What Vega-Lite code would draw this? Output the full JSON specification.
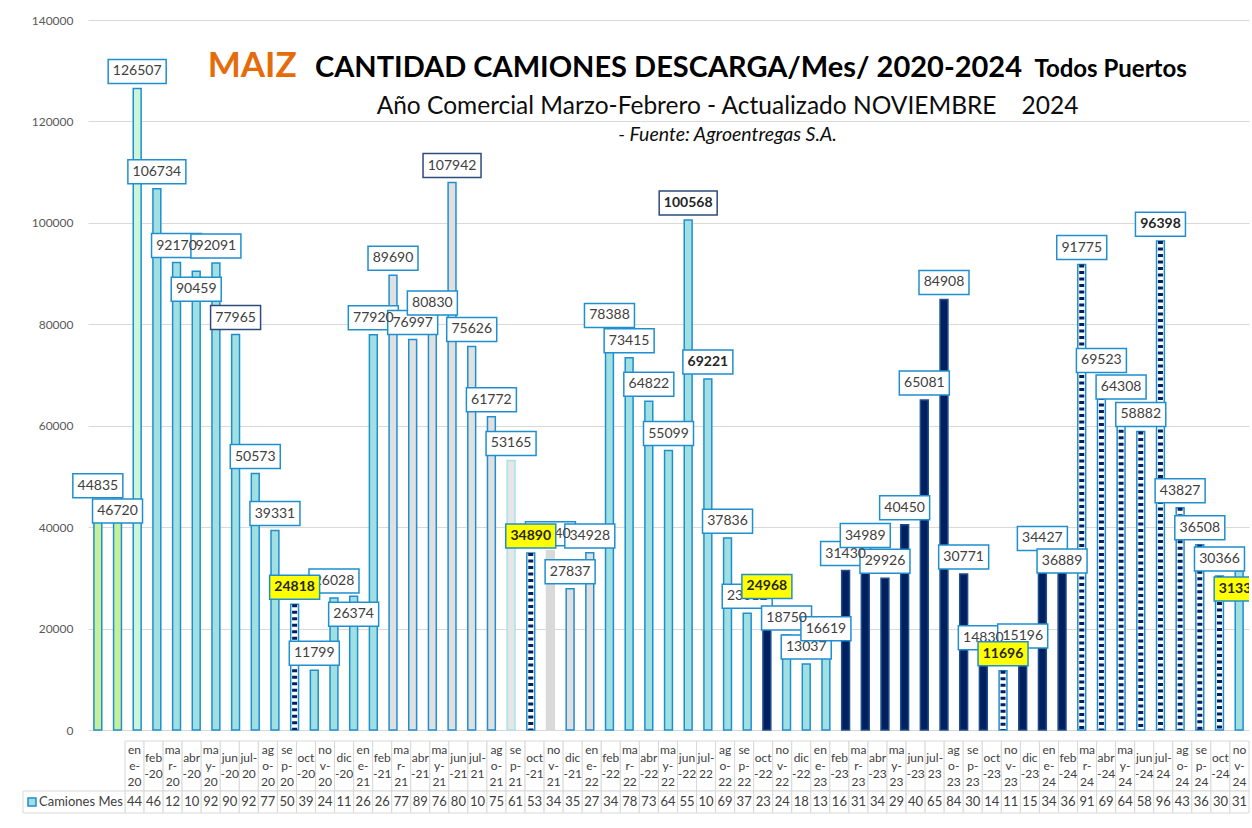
{
  "$schema": "https://vega.github.io/schema/vega-lite/v6.json",
  "background": "white",
  "padding": {"left": 18, "top": 14, "right": 1, "bottom": 4},
  "config": {"font": "Lato", "view": {"stroke": null}},
  "datasets": {
    "camiones": [
      {"mes": "ene-20", "camiones": 44835, "tramo": "A"},
      {"mes": "feb-20", "camiones": 46720, "tramo": "A"},
      {"mes": "mar-20", "camiones": 126507, "tramo": "B"},
      {"mes": "abr-20", "camiones": 106734, "tramo": "C"},
      {"mes": "may-20", "camiones": 92170, "tramo": "C"},
      {"mes": "jun-20", "camiones": 90459, "tramo": "C"},
      {"mes": "jul-20", "camiones": 92091, "tramo": "C"},
      {"mes": "ago-20", "camiones": 77965, "tramo": "C"},
      {"mes": "sep-20", "camiones": 50573, "tramo": "C"},
      {"mes": "oct-20", "camiones": 39331, "tramo": "C"},
      {"mes": "nov-20", "camiones": 24818, "tramo": "G"},
      {"mes": "dic-20", "camiones": 11799, "tramo": "C"},
      {"mes": "ene-21", "camiones": 26028, "tramo": "C"},
      {"mes": "feb-21", "camiones": 26374, "tramo": "C"},
      {"mes": "mar-21", "camiones": 77920, "tramo": "C"},
      {"mes": "abr-21", "camiones": 89690, "tramo": "D"},
      {"mes": "may-21", "camiones": 76997, "tramo": "D"},
      {"mes": "jun-21", "camiones": 80830, "tramo": "D"},
      {"mes": "jul-21", "camiones": 107942, "tramo": "D"},
      {"mes": "ago-21", "camiones": 75626, "tramo": "D"},
      {"mes": "sep-21", "camiones": 61772, "tramo": "D"},
      {"mes": "oct-21", "camiones": 53165, "tramo": "E"},
      {"mes": "nov-21", "camiones": 34890, "tramo": "G"},
      {"mes": "dic-21", "camiones": 35340, "tramo": "F"},
      {"mes": "ene-22", "camiones": 27837, "tramo": "D"},
      {"mes": "feb-22", "camiones": 34928, "tramo": "D"},
      {"mes": "mar-22", "camiones": 78388, "tramo": "C"},
      {"mes": "abr-22", "camiones": 73415, "tramo": "C"},
      {"mes": "may-22", "camiones": 64822, "tramo": "C"},
      {"mes": "jun-22", "camiones": 55099, "tramo": "C"},
      {"mes": "jul-22", "camiones": 100568, "tramo": "C"},
      {"mes": "ago-22", "camiones": 69221, "tramo": "C"},
      {"mes": "sep-22", "camiones": 37836, "tramo": "C"},
      {"mes": "oct-22", "camiones": 23012, "tramo": "C"},
      {"mes": "nov-22", "camiones": 24968, "tramo": "H"},
      {"mes": "dic-22", "camiones": 18750, "tramo": "C"},
      {"mes": "ene-23", "camiones": 13037, "tramo": "C"},
      {"mes": "feb-23", "camiones": 16619, "tramo": "C"},
      {"mes": "mar-23", "camiones": 31430, "tramo": "H"},
      {"mes": "abr-23", "camiones": 34989, "tramo": "H"},
      {"mes": "may-23", "camiones": 29926, "tramo": "H"},
      {"mes": "jun-23", "camiones": 40450, "tramo": "H"},
      {"mes": "jul-23", "camiones": 65081, "tramo": "H"},
      {"mes": "ago-23", "camiones": 84908, "tramo": "H"},
      {"mes": "sep-23", "camiones": 30771, "tramo": "H"},
      {"mes": "oct-23", "camiones": 14830, "tramo": "H"},
      {"mes": "nov-23", "camiones": 11696, "tramo": "G"},
      {"mes": "dic-23", "camiones": 15196, "tramo": "H"},
      {"mes": "ene-24", "camiones": 34427, "tramo": "H"},
      {"mes": "feb-24", "camiones": 36889, "tramo": "H"},
      {"mes": "mar-24", "camiones": 91775, "tramo": "G"},
      {"mes": "abr-24", "camiones": 69523, "tramo": "G"},
      {"mes": "may-24", "camiones": 64308, "tramo": "G"},
      {"mes": "jun-24", "camiones": 58882, "tramo": "G"},
      {"mes": "jul-24", "camiones": 96398, "tramo": "G"},
      {"mes": "ago-24", "camiones": 43827, "tramo": "G"},
      {"mes": "sep-24", "camiones": 36508, "tramo": "G"},
      {"mes": "oct-24", "camiones": 30366, "tramo": "G"},
      {"mes": "nov-24", "camiones": 31330, "tramo": "C"}
    ],
    "titulos": [
      {"titulo": "MAIZ"},
      {"titulo": "CANTIDAD CAMIONES DESCARGA/Mes/ 2020-2024"},
      {"titulo": "Todos Puertos"},
      {"titulo": "Año Comercial Marzo-Febrero - Actualizado NOVIEMBRE\u00a0\u00a0\u00a0 2024"},
      {"titulo": "- Fuente: Agroentregas S.A."}
    ]
  },
  "spacing": 4,
  "vconcat": [
    {
      "width": 1161,
      "height": 710,
      "layer": [
        {
          "data": {"name": "camiones"},
          "encoding": {
            "x": {
              "field": "mes", "type": "nominal", "sort": null, "axis": null,
              "scale": {
                "domain": ["ene-20","feb-20","mar-20","abr-20","may-20","jun-20","jul-20","ago-20","sep-20","oct-20","nov-20","dic-20","ene-21","feb-21","mar-21","abr-21","may-21","jun-21","jul-21","ago-21","sep-21","oct-21","nov-21","dic-21","ene-22","feb-22","mar-22","abr-22","may-22","jun-22","jul-22","ago-22","sep-22","oct-22","nov-22","dic-22","ene-23","feb-23","mar-23","abr-23","may-23","jun-23","jul-23","ago-23","sep-23","oct-23","nov-23","dic-23","ene-24","feb-24","mar-24","abr-24","may-24","jun-24","jul-24","ago-24","sep-24","oct-24","nov-24"],
                "paddingInner": 0.6, "paddingOuter": 0.3
              }
            },
            "y": {
              "field": "camiones", "type": "quantitative",
              "scale": {"domain": [0, 140000], "nice": false},
              "axis": {
                "values": [0, 20000, 40000, 60000, 80000, 100000, 120000, 140000],
                "format": "d", "title": null, "domain": false, "ticks": false,
                "grid": true, "gridColor": "#D9D9D9", "gridWidth": 1,
                "labelFontSize": 12, "labelColor": "#595959", "labelPadding": 15, "minExtent": 70
              }
            }
          },
          "layer": [
            {
              "mark": {"type": "bar", "strokeWidth": 1.5},
              "encoding": {
                "fill": {"field": "tramo", "type": "nominal", "legend": null,
                  "scale": {"domain": ["A","B","C","D","E","F","G","H"], "range": ["#C4F09E","#CCF6D8","#A0E0E3","#E0E0E0","#E6E6E6","#D9D9D9","#FFFFFF","#002060"]}},
                "stroke": {"field": "tramo", "type": "nominal", "legend": null,
                  "scale": {"domain": ["A","B","C","D","E","F","G","H"], "range": ["#1F8FCF","#1F8FCF","#1F8FCF","#1F8FCF","#A6E3E6","#D9D9D9","#1F8FCF","#1F4E8C"]}}
              }
            },
            {
              "transform": [{"filter": "datum.tramo == 'G'"}],
              "mark": {"type": "rule", "stroke": "#002060", "strokeWidth": 5, "strokeDash": [3, 3.5]},
              "encoding": {"y2": {"datum": 0}}
            },
            {
              "transform": [
                {"window": [{"op": "row_number", "as": "n"}, {"op": "lag", "field": "camiones", "as": "l1"}, {"op": "lag", "field": "camiones", "param": 2, "as": "l2"}, {"op": "lead", "field": "camiones", "as": "s1"}]},
                {"calculate": "datum.n % 2", "as": "par"},
                {"calculate": "substring(datum.mes,0,3) == 'nov' || indexof(['jul-22','ago-22','jul-24'], datum.mes) >= 0", "as": "negrita"},
                {"calculate": "(datum.l1 != null && abs(datum.camiones - datum.l1) < 2500 && !(datum.l2 != null && abs(datum.l1 - datum.l2) < 2500) && !(datum.s1 != null && abs((datum.camiones - 3550) - (datum.s1 + 3350)) < 4800)) ? datum.camiones - 3550 : datum.camiones + 3350", "as": "ylab"}
              ],
              "encoding": {
                "y": {"field": "ylab", "type": "quantitative"}
              },
              "layer": [
                {
                  "transform": [{"filter": "datum.par == 1 && !datum.negrita"}],
                  "mark": {"type": "point", "filled": true, "opacity": 1, "strokeWidth": 1.5},
                  "encoding": {
                    "shape": {"condition": {"test": "datum.camiones >= 100000", "value": "M-1,-0.414H1V0.414H-1Z"}, "value": "M-1,-0.48H1V0.48H-1Z"},
                    "size": {"condition": {"test": "datum.camiones >= 100000", "value": 3364}, "value": 2500},
                    "fill": {"value": "#FFFFFF"},
                    "stroke": {"condition": {"test": "indexof(['ago-20','jul-21','jul-22'], datum.mes) >= 0", "value": "#2F4B7C"}, "value": "#1F8FCF"}
                  }
                },
                {
                  "transform": [{"filter": "datum.par == 1 && !datum.negrita"}],
                  "mark": {"type": "text", "fontSize": 14, "color": "#404040", "baseline": "middle", "align": "center"},
                  "encoding": {"text": {"field": "camiones", "type": "quantitative", "format": "d"}}
                },
                {
                  "transform": [{"filter": "datum.par == 0 && !datum.negrita"}],
                  "mark": {"type": "point", "filled": true, "opacity": 1, "strokeWidth": 1.5},
                  "encoding": {
                    "shape": {"condition": {"test": "datum.camiones >= 100000", "value": "M-1,-0.414H1V0.414H-1Z"}, "value": "M-1,-0.48H1V0.48H-1Z"},
                    "size": {"condition": {"test": "datum.camiones >= 100000", "value": 3364}, "value": 2500},
                    "fill": {"value": "#FFFFFF"},
                    "stroke": {"condition": {"test": "indexof(['ago-20','jul-21','jul-22'], datum.mes) >= 0", "value": "#2F4B7C"}, "value": "#1F8FCF"}
                  }
                },
                {
                  "transform": [{"filter": "datum.par == 0 && !datum.negrita"}],
                  "mark": {"type": "text", "fontSize": 14, "color": "#404040", "baseline": "middle", "align": "center"},
                  "encoding": {"text": {"field": "camiones", "type": "quantitative", "format": "d"}}
                },
                {
                  "transform": [{"filter": "datum.negrita && datum.mes != 'nov-24'"}],
                  "mark": {"type": "point", "filled": true, "opacity": 1, "strokeWidth": 1.5},
                  "encoding": {
                    "shape": {"condition": {"test": "datum.camiones >= 100000", "value": "M-1,-0.414H1V0.414H-1Z"}, "value": "M-1,-0.48H1V0.48H-1Z"},
                    "size": {"condition": {"test": "datum.camiones >= 100000", "value": 3364}, "value": 2500},
                    "fill": {"condition": {"test": "substring(datum.mes,0,3) == 'nov'", "value": "#FFFF00"}, "value": "#FFFFFF"},
                    "stroke": {"condition": {"test": "datum.mes == 'jul-22'", "value": "#2F4B7C"}, "value": "#1F8FCF"}
                  }
                },
                {
                  "transform": [{"filter": "datum.negrita && datum.mes != 'nov-24'"}],
                  "mark": {"type": "text", "fontSize": 14, "fontWeight": "bold", "color": "#262626", "baseline": "middle", "align": "center"},
                  "encoding": {"text": {"field": "camiones", "type": "quantitative", "format": "d"}}
                },
                {
                  "transform": [{"filter": "datum.mes == 'nov-24'"}],
                  "mark": {"type": "point", "filled": true, "opacity": 1, "strokeWidth": 1.5, "clip": true, "shape": "M-1,-0.48H1V0.48H-1Z", "size": 2500, "fill": "#FFFF00", "stroke": "#1F8FCF"}
                },
                {
                  "transform": [{"filter": "datum.mes == 'nov-24'"}],
                  "mark": {"type": "text", "fontSize": 14, "fontWeight": "bold", "color": "#262626", "baseline": "middle", "align": "center", "clip": true},
                  "encoding": {"text": {"field": "camiones", "type": "quantitative", "format": "d"}}
                }
              ]
            }
          ]
        },
        {
          "data": {"name": "titulos"},
          "layer": [
            {
              "transform": [{"filter": "datum.titulo == 'MAIZ'"}],
              "mark": {"type": "text", "fontSize": 35, "fontWeight": "bold", "color": "#E46C0A", "align": "right", "baseline": "alphabetic", "dx": 2},
              "encoding": {"x": {"datum": "nov-20", "type": "nominal"}, "y": {"datum": 128760, "type": "quantitative"}, "text": {"field": "titulo"}}
            },
            {
              "transform": [{"filter": "indexof(datum.titulo, 'CANTIDAD') == 0"}],
              "mark": {"type": "text", "fontSize": 29, "fontWeight": "bold", "color": "#000000", "align": "center", "baseline": "alphabetic"},
              "encoding": {"x": {"datum": "jun-22", "type": "nominal"}, "y": {"datum": 128760, "type": "quantitative"}, "text": {"field": "titulo"}}
            },
            {
              "transform": [{"filter": "datum.titulo == 'Todos Puertos'"}],
              "mark": {"type": "text", "fontSize": 24, "fontWeight": "bold", "color": "#000000", "align": "left", "baseline": "alphabetic", "dx": -8},
              "encoding": {"x": {"datum": "ene-24", "type": "nominal"}, "y": {"datum": 128760, "type": "quantitative"}, "text": {"field": "titulo"}}
            },
            {
              "transform": [{"filter": "indexof(datum.titulo, 'Año') == 0"}],
              "mark": {"type": "text", "fontSize": 24.5, "color": "#0D0D0D", "align": "center", "baseline": "alphabetic"},
              "encoding": {"x": {"datum": "sep-22", "type": "nominal"}, "y": {"datum": 121465, "type": "quantitative"}, "text": {"field": "titulo"}}
            },
            {
              "transform": [{"filter": "indexof(datum.titulo, '- Fuente') == 0"}],
              "mark": {"type": "text", "fontSize": 19.5, "fontStyle": "italic", "color": "#0D0D0D", "align": "center", "baseline": "alphabetic"},
              "encoding": {"x": {"datum": "sep-22", "type": "nominal"}, "y": {"datum": 116140, "type": "quantitative"}, "text": {"field": "titulo"}}
            }
          ]
        }
      ]
    },
    {
      "width": 1161,
      "height": 72,
      "resolve": {"scale": {"x": "independent"}},
      "layer": [
        {
          "data": {"name": "camiones"},
          "transform": [
            {"calculate": "indexof(['feb','abr','jun','oct','dic'], substring(datum.mes,0,3)) >= 0 ? [substring(datum.mes,0,3), '-' + substring(datum.mes,4,6)] : (substring(datum.mes,0,3) == 'jul' ? ['jul-', substring(datum.mes,4,6)] : [substring(datum.mes,0,2), substring(datum.mes,2,3) + '-', substring(datum.mes,4,6)])", "as": "lineas"},
            {"calculate": "25 - (length(datum.lineas) - 1) * 8", "as": "fila"},
            {"calculate": "substring(toString(datum.camiones), 0, 2)", "as": "dos"}
          ],
          "encoding": {
            "x": {
              "field": "mes", "type": "nominal", "sort": null, "axis": null,
              "scale": {
                "domain": ["ene-20","feb-20","mar-20","abr-20","may-20","jun-20","jul-20","ago-20","sep-20","oct-20","nov-20","dic-20","ene-21","feb-21","mar-21","abr-21","may-21","jun-21","jul-21","ago-21","sep-21","oct-21","nov-21","dic-21","ene-22","feb-22","mar-22","abr-22","may-22","jun-22","jul-22","ago-22","sep-22","oct-22","nov-22","dic-22","ene-23","feb-23","mar-23","abr-23","may-23","jun-23","jul-23","ago-23","sep-23","oct-23","nov-23","dic-23","ene-24","feb-24","mar-24","abr-24","may-24","jun-24","jul-24","ago-24","sep-24","oct-24","nov-24"],
                "range": [37, 1161],
                "paddingInner": 0, "paddingOuter": 0
              }
            }
          },
          "layer": [
            {
              "mark": {"type": "rect", "fill": "#FFFFFF", "stroke": "#D9D9D9", "strokeWidth": 1},
              "encoding": {
                "y": {"datum": 0, "type": "quantitative", "scale": {"domain": [0, 72], "nice": false, "reverse": true}, "axis": null},
                "y2": {"datum": 50}
              }
            },
            {
              "mark": {"type": "rect", "fill": "#FFFFFF", "stroke": "#D9D9D9", "strokeWidth": 1},
              "encoding": {
                "y": {"datum": 50, "type": "quantitative", "scale": {"domain": [0, 72], "nice": false, "reverse": true}, "axis": null},
                "y2": {"datum": 72}
              }
            },
            {
              "mark": {"type": "text", "fontSize": 12, "color": "#404040", "lineHeight": 16, "baseline": "middle", "align": "center"},
              "encoding": {
                "y": {"field": "fila", "type": "quantitative", "scale": {"domain": [0, 72], "nice": false, "reverse": true}, "axis": null},
                "text": {"field": "lineas"}
              }
            },
            {
              "mark": {"type": "text", "fontSize": 13, "color": "#404040", "baseline": "middle", "align": "center"},
              "encoding": {
                "y": {"datum": 61, "type": "quantitative", "scale": {"domain": [0, 72], "nice": false, "reverse": true}, "axis": null},
                "text": {"field": "dos"}
              }
            }
          ]
        },
        {
          "data": {"values": [{"serie": "Camiones Mes"}]},
          "encoding": {
            "y": {"datum": 61, "type": "quantitative", "scale": {"domain": [0, 72], "nice": false, "reverse": true}, "axis": null}
          },
          "layer": [
            {
              "mark": {"type": "rect", "fill": "#FFFFFF", "stroke": "#D9D9D9", "strokeWidth": 1},
              "encoding": {
                "x": {"datum": 5, "type": "quantitative", "scale": {"domain": [0, 107], "nice": false, "zero": false, "range": [-70, 37]}, "axis": null},
                "x2": {"datum": 107},
                "y": {"datum": 50, "type": "quantitative"},
                "y2": {"datum": 72}
              }
            },
            {
              "mark": {"type": "square", "size": 64, "filled": true, "opacity": 1, "fill": "#A0E0E3", "stroke": "#1F8FCF", "strokeWidth": 1.5},
              "encoding": {
                "x": {"datum": 14, "type": "quantitative"}
              }
            },
            {
              "mark": {"type": "text", "align": "left", "baseline": "middle", "fontSize": 13, "color": "#404040"},
              "encoding": {
                "x": {"datum": 21, "type": "quantitative"},
                "text": {"field": "serie"}
              }
            }
          ]
        }
      ]
    }
  ]
}
